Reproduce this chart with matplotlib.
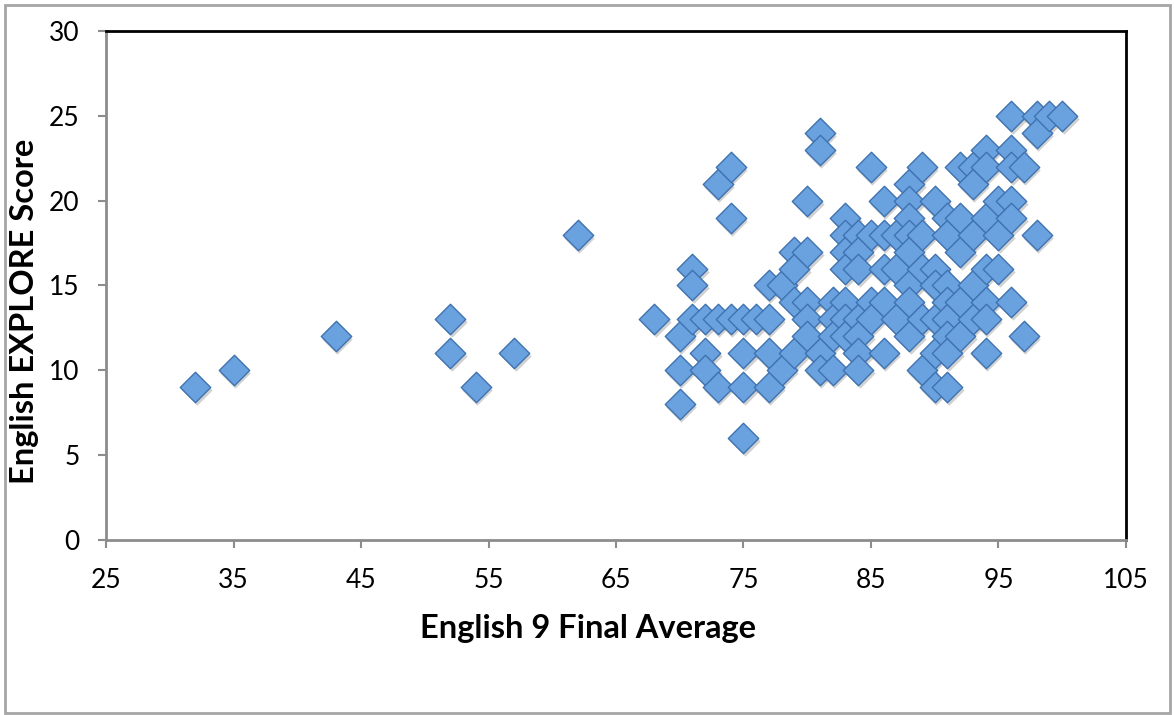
import matplotlib
matplotlib.use('Agg')
import matplotlib.pyplot as plt
from matplotlib.patches import Rectangle
from matplotlib.transforms import offset_copy

# English 9 final average vs. English EXPLORE score, one marker per student
final_avg = [32, 35, 43, 52, 52, 54, 57, 62, 68,
             70, 70, 70, 71, 71, 71, 72, 72, 72, 73, 73, 73, 74, 74, 74,
             75, 75, 75, 75, 76, 77, 77, 77, 77, 78, 78, 79, 79, 79, 79,
             80, 80, 80, 80, 80, 81, 81, 81, 81, 82, 82, 82, 82,
             83, 83, 83, 83, 83, 83, 83, 84, 84, 84, 84, 84, 84, 84,
             85, 85, 85, 85, 86, 86, 86, 86, 86, 87, 87, 87,
             88, 88, 88, 88, 88, 88, 88, 88, 89, 89, 89, 89, 89,
             90, 90, 90, 90, 90, 90, 91, 91, 91, 91, 91, 91, 91, 91,
             92, 92, 92, 92, 92, 93, 93, 93, 93, 93,
             94, 94, 94, 94, 94, 94, 94, 95, 95, 95,
             96, 96, 96, 96, 96, 96, 97, 97, 98, 98, 98, 99, 100]
explore = [9, 10, 12, 13, 11, 9, 11, 18, 13,
           12, 10, 8, 16, 15, 13, 13, 11, 10, 21, 13, 9, 22, 19, 13,
           13, 11, 9, 6, 13, 15, 13, 11, 9, 15, 10, 17, 16, 14, 11,
           20, 17, 14, 13, 12, 24, 23, 11, 10, 14, 13, 12, 10,
           19, 18, 17, 16, 14, 13, 12, 18, 17, 16, 13, 12, 11, 10,
           22, 18, 14, 13, 20, 18, 16, 14, 11, 18, 16, 13,
           21, 20, 19, 18, 17, 15, 14, 12, 22, 18, 16, 13, 10,
           20, 16, 15, 13, 11, 9, 19, 18, 15, 14, 13, 12, 11, 9,
           22, 19, 17, 14, 12, 22, 21, 18, 15, 13,
           23, 22, 19, 16, 14, 13, 11, 20, 18, 16,
           25, 23, 22, 20, 19, 14, 22, 12, 25, 24, 18, 25, 25]

x_ticks = [25, 35, 45, 55, 65, 75, 85, 95, 105]
y_ticks = [0, 5, 10, 15, 20, 25, 30]

plt.rcParams['font.family'] = ['Lato', 'DejaVu Sans']

fig = plt.figure(figsize=(11.74, 7.15), dpi=100)
ax = fig.add_axes([0.0903, 0.2448, 0.8688, 0.7118])

# soft drop shadow under each diamond
shadow = offset_copy(ax.transData, fig=fig, x=1.5, y=-3, units='dots')
ax.scatter(final_avg, explore, marker='D', s=240, color='#000000', alpha=0.18,
           linewidths=0, transform=shadow, zorder=2)
ax.scatter(final_avg, explore, marker='D', s=240, facecolor='#6aa2df',
           edgecolor='#3f72b0', linewidths=1.0, zorder=3)

ax.set_xlim(25, 105)
ax.set_ylim(0, 30)
ax.set_xticks(x_ticks)
ax.set_yticks(y_ticks)
ax.tick_params(axis='both', direction='out', length=6, width=1.5,
               color='#8c8c8c', labelsize=19)
ax.tick_params(axis='x', pad=14)
ax.tick_params(axis='y', pad=13)

for side in ('top', 'right'):
    ax.spines[side].set_color('black')
    ax.spines[side].set_linewidth(2)
for side in ('left', 'bottom'):
    ax.spines[side].set_color('#8c8c8c')
    ax.spines[side].set_linewidth(2)

ax.set_xlabel('English 9 Final Average', fontsize=23.5, fontweight='bold')
ax.set_ylabel('English EXPLORE Score', fontsize=23.5, fontweight='bold')
ax.xaxis.set_label_coords(0.4726, -0.145)
ax.yaxis.set_label_coords(-0.066, 0.45)

# outer chart border
fig.patches.append(Rectangle((0.004, 0.003), 0.993, 0.99, transform=fig.transFigure,
                             fill=False, edgecolor='#a6a6a6', linewidth=2))

fig.savefig('out.png', dpi=100)
